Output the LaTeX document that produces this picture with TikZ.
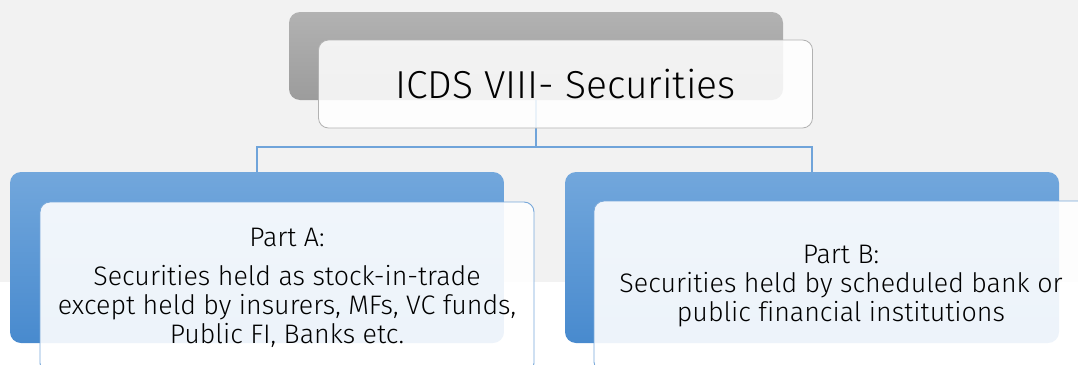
\documentclass[tikz,border=0pt]{standalone}
\usepackage{fontspec}
\setmainfont{Fira Sans Light}[Ligatures=NoCommon]
\definecolor{bggray}{RGB}{242,242,242}
\definecolor{graytop}{RGB}{178,178,178}
\definecolor{graybot}{RGB}{156,156,156}
\definecolor{bluetop}{RGB}{114,167,220}
\definecolor{bluebot}{RGB}{72,138,206}
\definecolor{connblue}{RGB}{112,164,218}
\definecolor{frontblue}{RGB}{120,168,218}
\definecolor{frontgrayline}{RGB}{178,178,178}
\tikzset{
  backbox/.style={inner sep=0pt, rounded corners=11pt, minimum width=494pt},
  graybackbox/.style={backbox, top color=graytop, bottom color=graybot, minimum height=88pt},
  bluebackbox/.style={backbox, top color=bluetop, bottom color=bluebot, minimum height=171pt},
  frontbox/.style={inner sep=0pt, rounded corners=10pt, minimum width=494pt, fill=white, text=black, text opacity=1, align=center},
  topfront/.style={frontbox, draw=frontgrayline, line width=0.8pt, fill opacity=0.86, minimum height=88pt, font=\fontsize{39}{44}\selectfont},
  partfront/.style={frontbox, draw=frontblue, line width=0.9pt, fill opacity=0.9, minimum height=171pt, font=\fontsize{26.8}{29}\selectfont},
  conn/.style={draw=connblue, line width=1.2pt}
}
\begin{document}
\begin{tikzpicture}[x=1pt,y=-1pt]
\useasboundingbox (0,0) rectangle (1078,364);
\fill[bggray] (0,0) rectangle (1078,282);
% back boxes
\node[graybackbox] (topback) at (536,56) {};
\node[bluebackbox] (leftback) at (257,257.5) {};
\node[bluebackbox] (rightback) at (812,257.5) {};
% connectors
\coordinate (junction) at (536,147);
\draw[conn] (topback.south) -- (junction) -| (leftback.north);
\draw[conn] (junction) -| (rightback.north);
% front boxes
\node[topfront] (title) at (565.5,84) {ICDS VIII- Securities};
\node[partfront] (parta) at (287,287.5) {Part A:\\[10pt]Securities held as stock-in-trade\\except held by insurers, MFs, VC funds,\\Public FI, Banks etc.};
\node[partfront] (partb) at (841,286.5) {Part B:\\Securities held by scheduled bank or\\public financial institutions};
\end{tikzpicture}
\end{document}
